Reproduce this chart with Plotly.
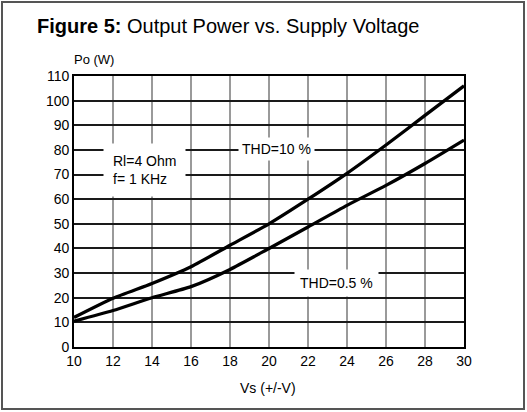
import plotly.graph_objects as go

# Data
vs = [10, 12, 14, 16, 18, 20, 22, 24, 26, 28, 30]
po_thd10 = [12, 19.8, 25.8, 32.6, 41.3, 50, 60, 70.5, 82, 94, 106]
po_thd05 = [10.5, 14.8, 20, 24.5, 31.5, 40, 48.7, 57.5, 65.6, 74.5, 84]
x_ticks = [10, 12, 14, 16, 18, 20, 22, 24, 26, 28, 30]
y_ticks = [0, 10, 20, 30, 40, 50, 60, 70, 80, 90, 100, 110]
dark_x_grid = [12, 18, 24]

FONT = "Liberation Sans, Arial, sans-serif"

fig = go.Figure()
for name, ys in (("THD=10 %", po_thd10), ("THD=0.5 %", po_thd05)):
    fig.add_trace(go.Scatter(x=vs, y=ys, mode="lines", name=name,
                             line=dict(color="black", width=3.3, shape="spline", smoothing=0.6),
                             hoverinfo="x+y"))

L, R, T, B = 74, 63, 76, 65
W, H = 527, 412
pw, ph = W - L - R, H - T - B

def px(x):
    return (x - L) / pw

def py(y):
    return (H - B - y) / ph

shapes = []
for xv in dark_x_grid:
    shapes.append(dict(type="line", xref="x", yref="paper", x0=xv, x1=xv, y0=0, y1=1,
                       line=dict(color="#1a1a1a", width=1.6), layer="below"))
# outer frame
shapes.append(dict(type="rect", xref="paper", yref="paper",
                   x0=px(2), x1=px(524), y0=py(409), y1=py(2),
                   line=dict(color="#555555", width=2), layer="above"))

annotations = [
    dict(xref="paper", yref="paper", x=px(35), y=py(26), xanchor="left", yanchor="middle",
         text="<b>Figure 5:</b> Output Power vs. Supply Voltage", showarrow=False,
         font=dict(family=FONT, size=20, color="black")),
    dict(xref="paper", yref="paper", x=px(72), y=py(60), xanchor="left", yanchor="middle",
         text="Po (W)", showarrow=False, font=dict(family=FONT, size=13, color="black")),
    dict(xref="paper", yref="paper", x=px(268), y=py(388), xanchor="center", yanchor="middle",
         text="Vs (+/-V)", showarrow=False, font=dict(family=FONT, size=14, color="black")),
    dict(x=13.62, y=71.85, text="Rl=4 Ohm<br>f= 1 KHz", showarrow=False, align="left",
         bgcolor="white", borderpad=9, font=dict(family=FONT, size=14, color="black")),
    dict(x=20.38, y=80.2, text="THD=10 %", showarrow=False,
         bgcolor="white", borderpad=3, font=dict(family=FONT, size=14, color="black")),
    dict(x=23.45, y=25.85, text="THD=0.5 %", showarrow=False,
         bgcolor="white", borderpad=5, font=dict(family=FONT, size=14, color="black")),
]

fig.update_layout(
    width=W, height=H,
    margin=dict(l=L, r=R, t=T, b=B),
    paper_bgcolor="white", plot_bgcolor="white",
    showlegend=False,
    font=dict(family=FONT, size=14, color="black"),
    shapes=shapes,
    annotations=annotations,
    xaxis=dict(range=[10, 30], tickvals=x_ticks, ticktext=[str(v) for v in x_ticks],
               showgrid=True, gridcolor="#9a9a9a", gridwidth=1.6,
               showline=True, linecolor="black", linewidth=1.6, mirror=True,
               ticks="", zeroline=False, tickfont=dict(family=FONT, size=14, color="black")),
    yaxis=dict(range=[0, 110], tickvals=y_ticks, ticktext=[str(v) for v in y_ticks],
               showgrid=True, gridcolor="#1a1a1a", gridwidth=1.6,
               showline=True, linecolor="black", linewidth=1.6, mirror=True,
               ticks="", zeroline=False, tickfont=dict(family=FONT, size=14, color="black")),
)

fig.write_html("out.html", config={"displayModeBar": False},
               post_script="document.body.style.margin='0px';document.body.style.overflow='hidden';")
